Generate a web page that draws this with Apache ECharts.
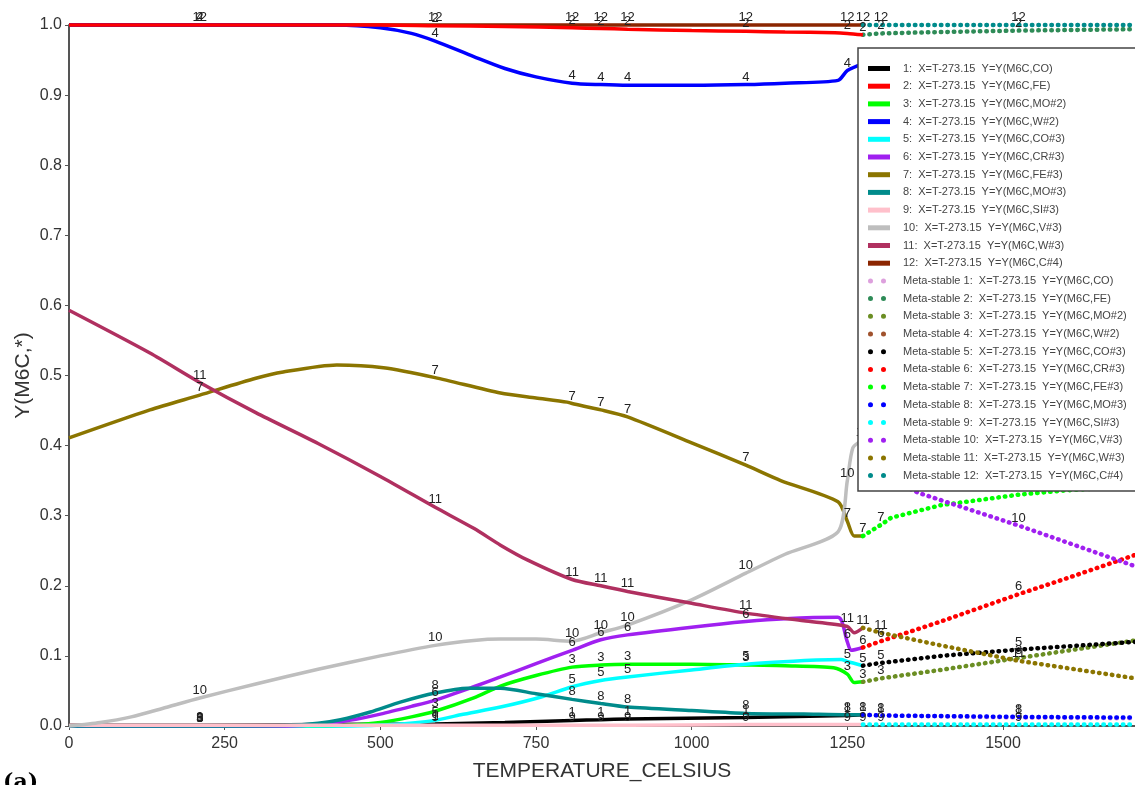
<!DOCTYPE html>
<html><head><meta charset="utf-8">
<script src="https://cdn.jsdelivr.net/npm/echarts/dist/echarts.min.js"></script>
<style>html,body{margin:0;padding:0;background:#fff}#c{width:1135px;height:785px}</style>
</head><body><div id="c"></div>
<script>
// ---- data ----
const species = ['CO','FE','MO#2','W#2','CO#3','CR#3','FE#3','MO#3','SI#3','V#3','W#3','C#4'];
const labelTemps = [210, 588, 808, 854, 897, 1087, 1250, 1275];
const metaLabelTemps = [1304, 1525];

const s1 = [[0,0.001],[210,0.001],[400,0.002],[588,0.003],[700,0.005],[808,0.008],[854,0.009],[897,0.010],[1087,0.012],[1250,0.015],[1275,0.016]];
const s2 = [[0,1],[210,1],[500,1],[588,0.999],[700,0.998],[808,0.996],[854,0.995],[897,0.994],[1000,0.992],[1087,0.991],[1150,0.990],[1230,0.989],[1250,0.988],[1275,0.986]];
const s3 = [[0,0],[210,0],[400,0],[450,0.001],[500,0.005],[550,0.013],[588,0.021],[650,0.040],[693,0.057],[750,0.072],[808,0.084],[854,0.087],[897,0.088],[1000,0.088],[1087,0.087],[1150,0.086],[1228,0.083],[1250,0.074],[1261,0.062],[1275,0.063]];
const s4 = [[0,1],[210,1],[430,1],[500,0.996],[550,0.988],[588,0.977],[650,0.955],[700,0.938],[750,0.926],[808,0.917],[854,0.915],[897,0.914],[1000,0.914],[1087,0.915],[1150,0.917],[1235,0.921],[1250,0.935],[1275,0.945]];
const s5 = [[0,0],[210,0],[450,0],[520,0.002],[588,0.008],[629,0.016],[693,0.027],[757,0.041],[808,0.056],[854,0.065],[897,0.070],[1000,0.080],[1087,0.088],[1200,0.094],[1240,0.095],[1250,0.092],[1275,0.086]];
const s6 = [[0,0],[210,0],[350,0],[400,0.002],[450,0.008],[500,0.017],[550,0.028],[588,0.037],[650,0.056],[693,0.070],[750,0.089],[808,0.108],[854,0.123],[897,0.130],[1000,0.141],[1087,0.149],[1150,0.153],[1235,0.155],[1250,0.120],[1256,0.108],[1275,0.112]];
const s7 = [[0,0.411],[130,0.451],[210,0.472],[300,0.496],[344,0.505],[430,0.515],[505,0.511],[588,0.497],[693,0.475],[750,0.468],[800,0.462],[808,0.460],[854,0.451],[897,0.441],[1000,0.404],[1087,0.372],[1143,0.350],[1235,0.320],[1250,0.292],[1261,0.271],[1275,0.271]];
const s8 = [[0,0],[210,0],[350,0.001],[400,0.004],[436,0.009],[484,0.020],[532,0.034],[588,0.047],[640,0.054],[693,0.054],[750,0.046],[808,0.038],[854,0.032],[897,0.027],[1000,0.022],[1087,0.018],[1180,0.017],[1250,0.016],[1275,0.016]];
const s9 = [[0,0.001],[210,0.001],[588,0.001],[808,0.001],[854,0.001],[897,0.001],[1087,0.002],[1250,0.002],[1275,0.002]];
const s10 = [[0,0],[50,0.005],[100,0.013],[150,0.025],[210,0.040],[300,0.060],[400,0.081],[500,0.100],[588,0.115],[650,0.122],[693,0.124],[750,0.124],[808,0.121],[854,0.133],[897,0.144],[1000,0.180],[1087,0.218],[1150,0.245],[1235,0.277],[1250,0.350],[1259,0.397],[1275,0.408]];
const s11 = [[0,0.593],[130,0.532],[210,0.490],[300,0.447],[400,0.403],[500,0.356],[588,0.312],[650,0.282],[693,0.258],[736,0.237],[808,0.209],[854,0.200],[897,0.192],[1000,0.175],[1087,0.161],[1180,0.150],[1250,0.142],[1261,0.133],[1275,0.140]];
const s12 = [[0,1],[210,1],[588,1],[808,1],[854,1],[897,1],[1087,1],[1250,1],[1275,1]];

const m1 = [[1275,0.016],[1304,0.015],[1525,0.012],[1712,0.011]];
const m2 = [[1275,0.986],[1304,0.988],[1400,0.990],[1525,0.992],[1712,0.994]];
const m3 = [[1275,0.063],[1304,0.068],[1400,0.080],[1525,0.097],[1712,0.122]];
const m4 = [[1275,0.945],[1400,0.952],[1712,0.962]];
const m5 = [[1275,0.086],[1304,0.090],[1400,0.100],[1525,0.109],[1712,0.120]];
const m6 = [[1275,0.112],[1304,0.121],[1400,0.149],[1525,0.188],[1600,0.210],[1712,0.244]];
const m7 = [[1275,0.271],[1304,0.287],[1320,0.297],[1400,0.315],[1525,0.330],[1600,0.336],[1712,0.342]];
const m8 = [[1275,0.016],[1304,0.015],[1525,0.013],[1712,0.012]];
const m9 = [[1275,0.002],[1304,0.002],[1525,0.002],[1712,0.002]];
const m10 = [[1275,0.408],[1304,0.360],[1363,0.333],[1525,0.286],[1712,0.228]];
const m11 = [[1275,0.140],[1304,0.133],[1400,0.115],[1525,0.093],[1600,0.083],[1712,0.068]];
const m12 = [[1275,1],[1304,1],[1525,1],[1712,1]];

const stable = [s1,s2,s3,s4,s5,s6,s7,s8,s9,s10,s11,s12];
const meta = [m1,m2,m3,m4,m5,m6,m7,m8,m9,m10,m11,m12];

// ---- styles ----
const stableColors = ['#000000','#ff0000','#00ff00','#0000ff','#00ffff','#a020f0','#8b7500','#008b8b','#ffc0cb','#bebebe','#b03060','#8b2500'];
const metaColors = ['#dda0dd','#2e8b57','#6b8e23','#a0522d','#000000','#ff0000','#00ff00','#0000ff','#00ffff','#a020f0','#8b7500','#008b8b'];
const FONT = '"Liberation Sans", Arial, sans-serif';
const barIcon = 'path://M0,0H22V5H0ZM30,2.5L30,2.5';
const dotIcon = 'path://M0,2.5a2.5,2.5 0 1,0 5,0a2.5,2.5 0 1,0 -5,0M13,2.5a2.5,2.5 0 1,0 5,0a2.5,2.5 0 1,0 -5,0M30,2.5L30,2.5';

function toData(arr, labTs, text) {
  return arr.map(p => labTs.includes(p[0])
    ? {value: p, label: {show: true, formatter: text}}
    : {value: p});
}
const labelStyle = {position: 'top', distance: 1, fontSize: 13, color: '#222', fontFamily: FONT};

const series = [];
const legendData = [];
stable.forEach((arr, i) => {
  const name = (i + 1) + ':  X=T-273.15  Y=Y(M6C,' + species[i] + ')';
  series.push({
    name, type: 'line', data: toData(arr, labelTemps, String(i + 1)),
    showSymbol: true, symbol: 'circle', symbolSize: 0.1,
    smooth: 0.25,
    color: stableColors[i], itemStyle: {color: stableColors[i]},
    lineStyle: {width: 3.5, color: stableColors[i]},
    label: labelStyle, z: i === 11 ? 1 : (i === 1 ? 3 : 2),
    silent: true, animation: false, clip: false
  });
  legendData.push({name, icon: barIcon});
});
meta.forEach((arr, i) => {
  const name = 'Meta-stable ' + (i + 1) + ':  X=T-273.15  Y=Y(M6C,' + species[i] + ')';
  series.push({
    name, type: 'line', data: toData(arr, metaLabelTemps, String(i + 1)),
    showSymbol: true, symbol: 'circle', symbolSize: 0.1,
    color: metaColors[i], itemStyle: {color: metaColors[i]},
    lineStyle: {width: 4.5, color: metaColors[i], type: [0.5, 6], cap: 'round'},
    label: labelStyle, z: 2,
    silent: true, animation: false, clip: false
  });
  legendData.push({name, icon: dotIcon});
});

const chart = echarts.init(document.getElementById('c'), null, {renderer: 'canvas'});
chart.setOption({
  animation: false,
  backgroundColor: '#fff',
  grid: {left: 69, top: 25, right: 0, bottom: 59, containLabel: false, outerBoundsMode: 'none'},
  xAxis: {
    type: 'value', min: 0, max: 1712, interval: 250,
    name: 'TEMPERATURE_CELSIUS', nameLocation: 'middle', nameGap: 35, nameMoveOverlap: false,
    nameTextStyle: {fontSize: 21, color: '#333', fontFamily: FONT},
    axisLine: {show: true, lineStyle: {color: '#555', width: 2}},
    axisTick: {show: true, length: 4, lineStyle: {color: '#555'}},
    axisLabel: {fontSize: 16, color: '#333', margin: 10, fontFamily: FONT, showMaxLabel: false, formatter: v => String(v)},
    splitLine: {show: false}
  },
  yAxis: {
    type: 'value', min: 0, max: 1, interval: 0.1,
    name: 'Y(M6C,*)', nameLocation: 'middle', nameGap: 35, nameMoveOverlap: false,
    nameTextStyle: {fontSize: 21, color: '#333', fontFamily: FONT},
    axisLine: {show: true, lineStyle: {color: '#555', width: 2}},
    axisTick: {show: true, length: 4, lineStyle: {color: '#555'}},
    axisLabel: {fontSize: 16, color: '#333', margin: 7, fontFamily: FONT, formatter: v => v.toFixed(1)},
    splitLine: {show: false}
  },
  legend: {
    orient: 'vertical', left: 858, top: 48,
    padding: [14, 40, 9, 10],
    itemWidth: 30, itemHeight: 5, itemGap: 4.7,
    backgroundColor: '#fff', borderColor: '#444', borderWidth: 1.5,
    textStyle: {fontSize: 11, lineHeight: 13, color: '#444', fontFamily: FONT},
    selectedMode: false,
    data: legendData
  },
  graphic: [{
    type: 'text', left: 3, top: 772,
    style: {text: '(a)', font: 'bold 22px "DejaVu Serif", "Liberation Serif", serif', fill: '#000'}
  }],
  series
});
</script>
</body></html>
